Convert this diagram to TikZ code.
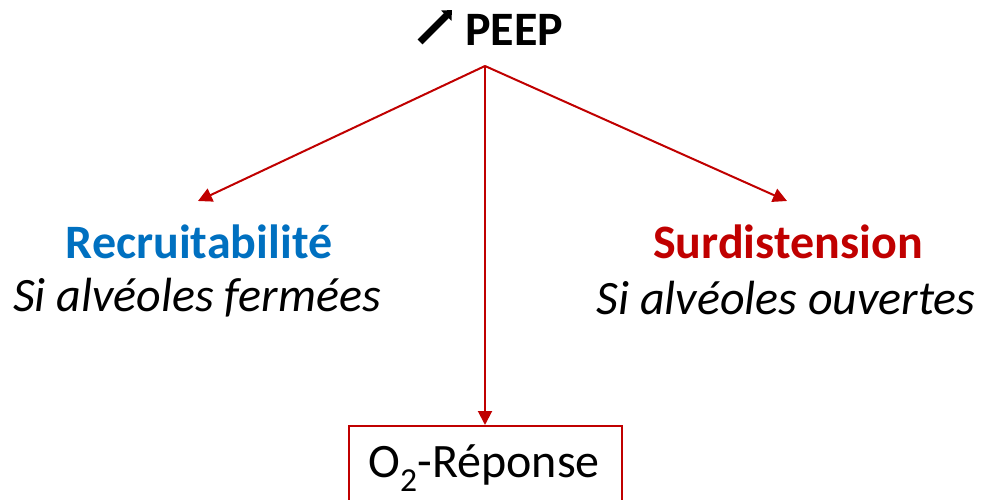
\documentclass[tikz,border=0pt]{standalone}
\usepackage{fontspec}
\setmainfont{Carlito}
\usetikzlibrary{arrows.meta}
\definecolor{dred}{RGB}{192,0,0}
\definecolor{dblue}{RGB}{0,112,192}
\begin{document}
\begin{tikzpicture}[x=1pt,y=-1pt,
  conn/.style={draw=dred,line width=2pt,-{Triangle[length=14pt,width=14pt]}},
  txt/.style={inner sep=0pt,font=\fontsize{48}{58}\selectfont},
  boxnode/.style={draw=dred,line width=2pt,minimum width=273pt,minimum height=86pt,inner sep=0pt,anchor=north,text depth=0pt}]
\useasboundingbox (0,0) rectangle (983,500);
\node[txt,font=\fontsize{48}{58}\selectfont\bfseries,anchor=west] (peep) at (465,30) {PEEP};
\coordinate (top) at (485,66);
\coordinate (ia) at (420,42);
\coordinate (ib) at (452,10);
\draw[line width=7pt,-{Triangle[length=8pt,width=14pt]}] (ia) -- (ib);
\node[txt,font=\fontsize{48}{58}\selectfont\bfseries,text=dblue] (rec) at (199,242) {Recruitabilité};
\node[txt,font=\fontsize{48}{58}\selectfont\itshape] (recs) at (197,298) {Si alvéoles fermées};
\node[txt,font=\fontsize{48}{58}\selectfont\bfseries,text=dred] (sur) at (788,242) {Surdistension};
\node[txt,font=\fontsize{48}{58}\selectfont\itshape] (surs) at (786,298) {Si alvéoles ouvertes};
\node[boxnode] (o2) at (485,425) {};
\node[txt] (o2t) at (484,468) {O\textsubscript{2}-Réponse};
\coordinate (lt) at (198,201);
\coordinate (rt) at (787,201);
\draw[conn] (top) -- (lt);
\draw[conn] (top) -- (rt);
\draw[conn] (top) -- (o2.north);
\end{tikzpicture}
\end{document}
